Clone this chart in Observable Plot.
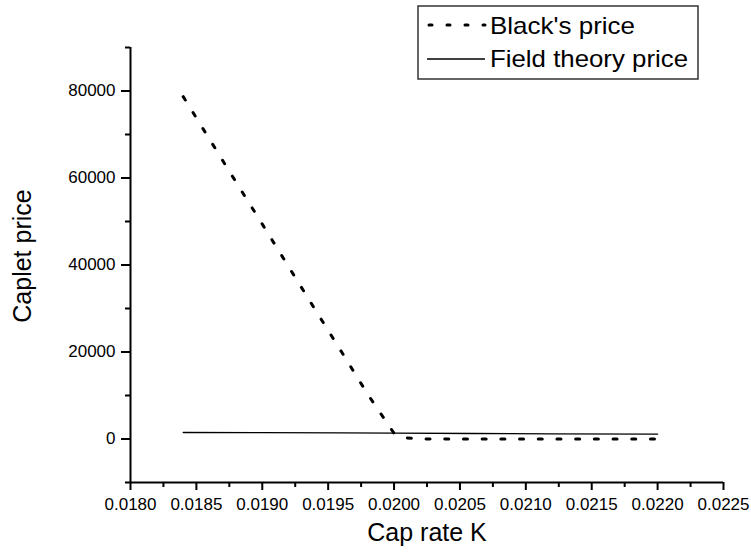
<!DOCTYPE html>
<html>
<head>
<meta charset="utf-8">
<script src="https://cdn.jsdelivr.net/npm/d3@7"></script>
<script src="https://cdn.jsdelivr.net/npm/@observablehq/plot@0.6"></script>
<style>
  html, body { margin: 0; padding: 0; background: #fff; }
  #chart svg { display: block; }
</style>
</head>
<body>
<div id="chart"></div>
<script>
// ---- data ----
const blackK     = [0.0184, 0.0186, 0.0188, 0.0190, 0.0192, 0.0194, 0.0196, 0.0198, 0.0200, 0.0201, 0.0202, 0.0204, 0.0206, 0.0208, 0.0210, 0.0212, 0.0214, 0.0216, 0.0218, 0.0220];
const blackPrice = [78700, 68900, 59100, 49400, 39600, 29800, 20100, 10300, 1300, 250, 30, 0, 0, 0, 0, 0, 0, 0, 0, 0];
const fieldK     = [0.0184, 0.0190, 0.0196, 0.0200, 0.0206, 0.0212, 0.0220];
const fieldPrice = [1500, 1450, 1390, 1340, 1270, 1200, 1120];

const xMajorTicks = [0.0180, 0.0185, 0.0190, 0.0195, 0.0200, 0.0205, 0.0210, 0.0215, 0.0220, 0.0225];
const xMinorTicks = [0.01825, 0.01875, 0.01925, 0.01975, 0.02025, 0.02075, 0.02125, 0.02175, 0.02225];
const yMajorTicks = [0, 20000, 40000, 60000, 80000];
const yMinorTicks = [-10000, 10000, 30000, 50000, 70000, 90000];
const xDomain = [0.0180, 0.0225];
const yDomain = [-10000, 90000];

const seriesNames = ["Black's price", "Field theory price"];
const xTitle = "Cap rate K";
const yTitle = "Caplet price";

const black = blackK.map((k, i) => ({K: k, price: blackPrice[i]}));
const field = fieldK.map((k, i) => ({K: k, price: fieldPrice[i]}));

const FONT = "'Liberation Sans', Arial, Helvetica, sans-serif";

const plot = Plot.plot({
  width: 751,
  height: 555,
  marginLeft: 130,
  marginRight: 28,
  marginTop: 47,
  marginBottom: 73,
  style: {fontFamily: FONT, color: "#000", background: "#fff"},
  x: {domain: xDomain},
  y: {domain: yDomain},
  marks: [
    Plot.axisX({ticks: xMajorTicks, tickSize: 8, tickPadding: 7, tickFormat: d3.format(".4f"), fontSize: 17, strokeWidth: 2, label: null}),
    Plot.axisX({ticks: xMinorTicks, tickSize: 5, tickFormat: () => "", strokeWidth: 2, label: null}),
    Plot.axisY({ticks: yMajorTicks, tickSize: 9, tickPadding: 6, tickFormat: d3.format("d"), fontSize: 17, strokeWidth: 2, label: null}),
    Plot.axisY({ticks: yMinorTicks, tickSize: 5, tickFormat: () => "", strokeWidth: 2, label: null}),
    Plot.ruleY([yDomain[0]], {strokeWidth: 2}),
    Plot.ruleX([xDomain[0]], {strokeWidth: 2}),
    Plot.line(field, {x: "K", y: "price", stroke: "#000", strokeWidth: 1.3}),
    Plot.line(black, {x: "K", y: "price", stroke: "#000", strokeWidth: 3, strokeDasharray: "4,14.7", strokeLinecap: "round"}),
    Plot.text([xTitle], {frameAnchor: "bottom", dy: 58, fontSize: 25, fill: "#000"}),
    Plot.text([yTitle], {frameAnchor: "left", textAnchor: "middle", rotate: -90, dx: -108, dy: -9, fontSize: 25, fill: "#000"})
  ]
});

// legend (inside the svg, top right)
const svg = d3.select(plot);
const lg = svg.append("g").attr("font-family", FONT).attr("font-size", 24).attr("text-anchor", "start");
lg.append("rect").attr("x", 418).attr("y", 6).attr("width", 280).attr("height", 73)
  .attr("fill", "#fff").attr("stroke", "#333").attr("stroke-width", 1.5);
lg.append("line").attr("x1", 429).attr("x2", 485).attr("y1", 25).attr("y2", 25)
  .attr("stroke", "#000").attr("stroke-width", 3).attr("stroke-dasharray", "3,15")
  .attr("stroke-linecap", "round");
lg.append("line").attr("x1", 427).attr("x2", 485).attr("y1", 59).attr("y2", 59)
  .attr("stroke", "#000").attr("stroke-width", 1.3);
lg.append("text").attr("x", 490).attr("y", 34).attr("fill", "#000")
  .attr("textLength", 145).attr("lengthAdjust", "spacingAndGlyphs").text(seriesNames[0]);
lg.append("text").attr("x", 490).attr("y", 67).attr("fill", "#000")
  .attr("textLength", 198).attr("lengthAdjust", "spacingAndGlyphs").text(seriesNames[1]);

document.getElementById("chart").appendChild(plot);
</script>
</body>
</html>
